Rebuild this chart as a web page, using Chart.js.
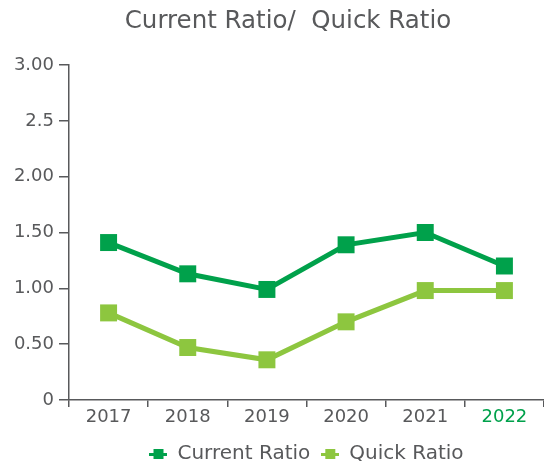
<!DOCTYPE html>
<html>
<head>
<meta charset="utf-8">
<script src="https://cdn.jsdelivr.net/npm/chart.js@4"></script>
<style>
  html, body { margin: 0; padding: 0; background: #fff; }
  #wrap { width: 544px; height: 461px; }
</style>
</head>
<body>
<div id="wrap"><canvas id="chart"></canvas></div>
<script>
const years = ['2017', '2018', '2019', '2020', '2021', '2022'];
const currentRatio = [1.41, 1.13, 0.99, 1.39, 1.50, 1.20];
const quickRatio = [0.78, 0.47, 0.36, 0.70, 0.98, 0.98];
const yTickLabels = { 0: '0', 0.5: '0.50', 1: '1.00', 1.5: '1.50', 2: '2.00', 2.5: '2.5', 3: '3.00' };

const DARK = '#00a14b';
const LIGHT = '#8dc63f';
const GREY = '#58595b';
const FONT = "'DejaVu Sans', sans-serif";

// legend swatch: short line with a square on it
function swatch(color) {
  const c = document.createElement('canvas');
  c.width = 18; c.height = 12;
  const g = c.getContext('2d');
  g.fillStyle = color;
  g.fillRect(0, 5, 18, 3);
  g.fillRect(4, 1, 10, 10);
  return c;
}

const titlePlugin = {
  id: 'titleText',
  beforeInit(chart) {
    // squeeze the legend box so it sits close to the bottom edge
    const lg = chart.legend;
    if (lg) {
      const fit = lg.fit;
      lg.fit = function () { fit.call(this); this.height = 28; };
    }
  },
  afterDraw(chart) {
    const ctx = chart.ctx;
    ctx.save();
    ctx.font = '24.5px ' + FONT;
    ctx.fillStyle = GREY;
    ctx.textAlign = 'center';
    ctx.textBaseline = 'middle';
    ctx.fillText('Current Ratio/  Quick Ratio', 288, 22);
    ctx.restore();
  }
};

new Chart(document.getElementById('chart'), {
  type: 'line',
  data: {
    labels: years,
    datasets: [
      {
        label: 'Current Ratio',
        data: currentRatio,
        borderColor: DARK,
        backgroundColor: DARK,
        borderWidth: 5,
        pointStyle: 'rect',
        pointRadius: 12,
        pointHoverRadius: 12,
        pointBorderWidth: 0,
        tension: 0
      },
      {
        label: 'Quick Ratio',
        data: quickRatio,
        borderColor: LIGHT,
        backgroundColor: LIGHT,
        borderWidth: 5,
        pointStyle: 'rect',
        pointRadius: 12,
        pointHoverRadius: 12,
        pointBorderWidth: 0,
        tension: 0
      }
    ]
  },
  options: {
    responsive: true,
    maintainAspectRatio: false,
    animation: false,
    layout: { autoPadding: false, padding: { top: 65, right: 0, left: 0, bottom: 0 } },
    plugins: {
      title: { display: false },
      tooltip: { enabled: false },
      legend: {
        position: 'bottom',
        fullSize: false,
        labels: {
          font: { family: FONT, size: 20 },
          color: GREY,
          usePointStyle: true,
          pointStyleWidth: 18,
          padding: 11,
          generateLabels(chart) {
            return chart.data.datasets.map((ds, i) => ({
              text: ds.label,
              pointStyle: swatch(ds.borderColor),
              fontColor: GREY,
              lineWidth: 0,
              strokeStyle: 'transparent',
              fillStyle: ds.borderColor,
              datasetIndex: i,
              hidden: false
            }));
          }
        }
      }
    },
    scales: {
      x: {
        offset: true,
        afterFit(scale) { scale.height = 33; },
        border: { color: GREY, width: 1.5 },
        grid: { display: true, drawOnChartArea: false, drawTicks: true, tickLength: 7, color: GREY, offset: true, lineWidth: 1.5 },
        ticks: {
          font: { family: FONT, size: 18 },
          color: ctx => ctx.index === 5 ? DARK : GREY,
          padding: 0
        }
      },
      y: {
        min: 0,
        max: 3,
        afterFit(scale) { scale.width = 69; },
        border: { color: GREY, width: 1.5 },
        grid: { display: true, drawOnChartArea: false, drawTicks: true, tickLength: 10, color: GREY, lineWidth: 1.5 },
        ticks: {
          stepSize: 0.5,
          font: { family: FONT, size: 18 },
          color: GREY,
          padding: 5,
          callback: v => yTickLabels[v] !== undefined ? yTickLabels[v] : ''
        }
      }
    }
  },
  plugins: [titlePlugin]
});
</script>
</body>
</html>
